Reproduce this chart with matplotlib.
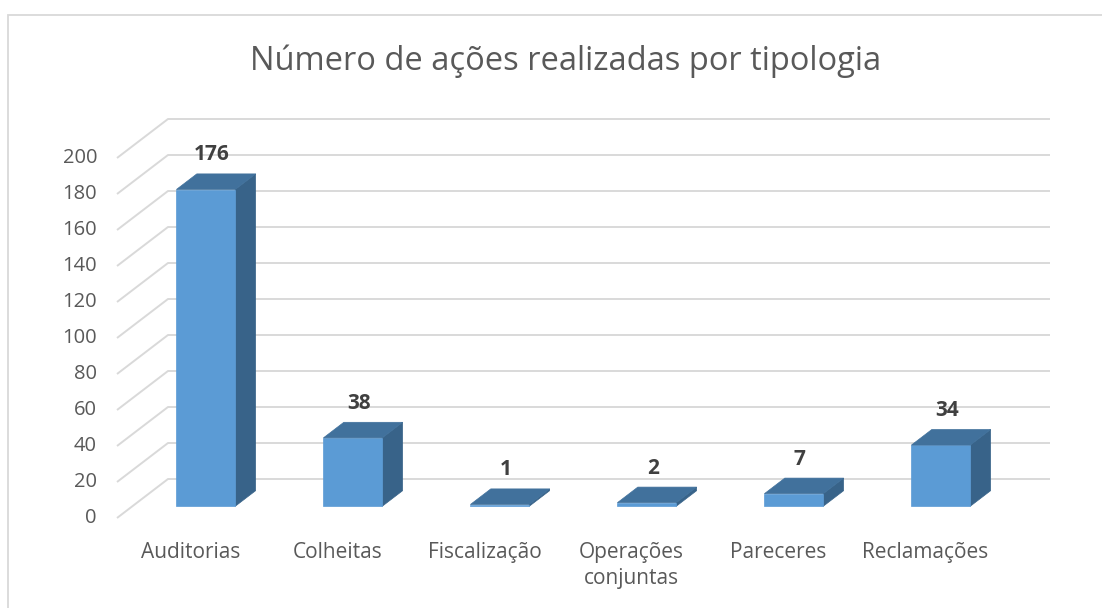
import matplotlib
matplotlib.use("Agg")
import matplotlib.pyplot as plt
from matplotlib.patches import Polygon, Rectangle

categories = ["Auditorias", "Colheitas", "Fiscalização", "Operações\nconjuntas",
              "Pareceres", "Reclamações"]
values = [176, 38, 1, 2, 7, 34]
yticks = [0, 20, 40, 60, 80, 100, 120, 140, 160, 180, 200]
title = "Número de ações realizadas por tipologia"

plt.rcParams['font.family'] = ['Open Sans', 'DejaVu Sans']

# oblique projection: depth d in [0, 1] shifts right and up
DX = 51 / 147.0
DY = 39 / 1.8
BAR_W = 0.40
D0, D1 = 0.30, 0.70

FRONT = "#5B9BD5"
TOP = "#41719C"
SIDE = "#386389"
GRID = "#D9D9D9"


def proj(x, y, d):
    return (x + d * DX, y + d * DY)


fig = plt.figure(figsize=(11.02, 6.08), dpi=100)
ax = fig.add_axes([0, 0, 1, 1])
ax.set_xlim(-117 / 147.0, (1102 - 117) / 147.0)
ax.set_ylim(-(608 - 518) / 1.8, 518 / 1.8)
ax.axis("off")

# chart border
ax.add_patch(Rectangle((-109 / 147.0, -60), 20, (518 - 15) / 1.8 + 60,
                       fill=False, ec="#D9D9D9", lw=1.3, zorder=0))

n = len(categories)
for t in yticks:
    x0, y0 = proj(0, t, 0)
    x1, y1 = proj(0, t, 1)
    x2, _ = proj(n, t, 1)
    ax.plot([x0, x1, x2], [y0, y1, y1], color=GRID, lw=1.4,
            solid_capstyle="butt", zorder=1)
    ax.text(x0 - 20 / 147.0, y0, str(t), ha="right", va="center",
            fontsize=14.5, color="#595959")

for i, (cat, v) in enumerate(zip(categories, values)):
    xl = i + 0.5 - BAR_W / 2
    xr = i + 0.5 + BAR_W / 2
    front = [proj(xl, 0, D0), proj(xr, 0, D0), proj(xr, v, D0), proj(xl, v, D0)]
    side = [proj(xr, 0, D0), proj(xr, 0, D1), proj(xr, v, D1), proj(xr, v, D0)]
    top = [proj(xl, v, D0), proj(xr, v, D0), proj(xr, v, D1), proj(xl, v, D1)]
    ax.add_patch(Polygon(side, closed=True, fc=SIDE, ec=SIDE, lw=0.5, zorder=3))
    ax.add_patch(Polygon(front, closed=True, fc=FRONT, ec=FRONT, lw=0.5, zorder=3))
    ax.add_patch(Polygon(top, closed=True, fc=TOP, ec=TOP, lw=0.5, zorder=3))
    lx, _ = proj(i + 0.5, v, D0)
    _, ly = proj(i + 0.5, v, D1)
    ax.text(lx + 6 / 147.0, ly + 19 / 1.8, str(v), ha="center", va="center",
            fontsize=15, fontweight="bold", color="#404040", zorder=4)
    ax.text(i + 0.5, -24 / 1.8, cat, ha="center", va="top",
            fontsize=15, color="#595959", linespacing=1.3)

ax.text(566 / 1102.0, 1 - 61 / 608.0, title, transform=ax.transAxes,
        ha="center", va="center", fontsize=23.5, color="#595959")

fig.savefig("out.png", dpi=100)
